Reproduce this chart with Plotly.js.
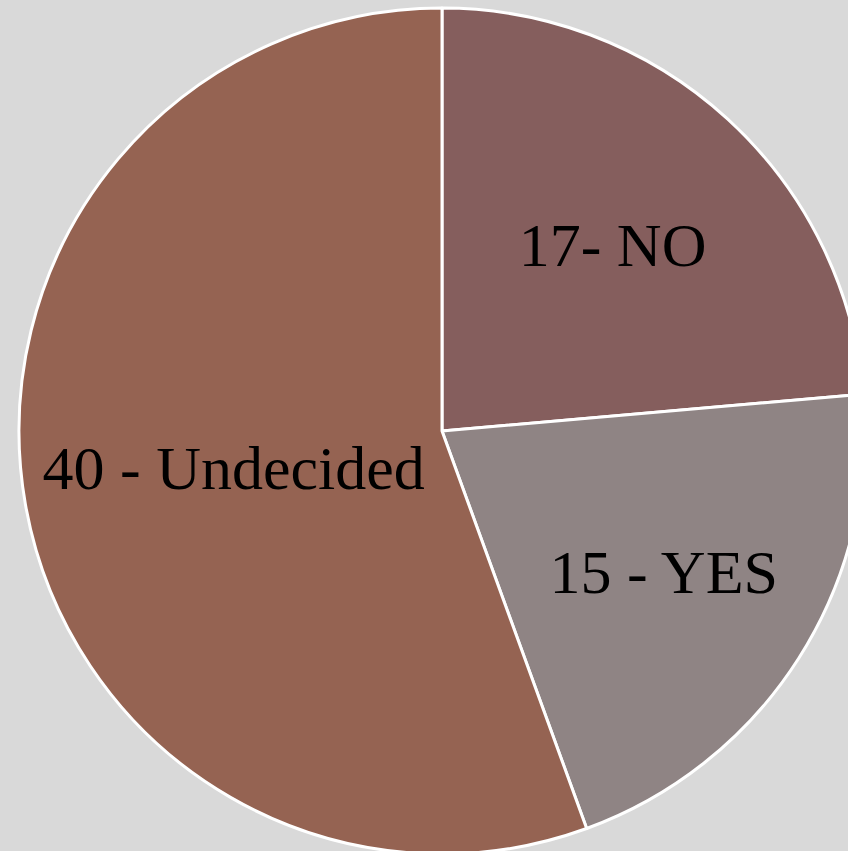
<!DOCTYPE html>
<html>
<head>
<meta charset="utf-8">
<script src="https://cdn.plot.ly/plotly-3.0.1.min.js"></script>
<style>
html,body{margin:0;padding:0;background:#D9D9D9;overflow:hidden;width:848px;height:851px;}
#chart{width:884px;height:862px;}
</style>
</head>
<body>
<div id="chart"></div>
<script>
var categories = ["NO", "YES", "Undecided"];
var values = [17, 15, 40];
var labelTexts = ["17- NO", "15 - YES", "40 - Undecided"];
var colors = ["#855E5D", "#8F8484", "#956352"];

var trace = {
  type: "pie",
  labels: categories,
  values: values,
  text: labelTexts,
  textinfo: "text",
  textposition: "inside",
  insidetextorientation: "horizontal",
  sort: false,
  direction: "clockwise",
  rotation: 0,
  hole: 0,
  marker: {colors: colors, line: {color: "#FFFFFF", width: 3}},
  textfont: {family: "Liberation Serif, serif", size: 62, color: "#000000"},
  domain: {x: [0, 1], y: [8/862, 854/862]},
  showlegend: false
};

var layout = {
  width: 884,
  height: 862,
  margin: {l: 0, r: 0, t: 0, b: 0, pad: 0},
  paper_bgcolor: "#D9D9D9",
  plot_bgcolor: "#D9D9D9",
  showlegend: false
};

Plotly.newPlot("chart", [trace], layout, {displayModeBar: false, staticPlot: true});
</script>
</body>
</html>
